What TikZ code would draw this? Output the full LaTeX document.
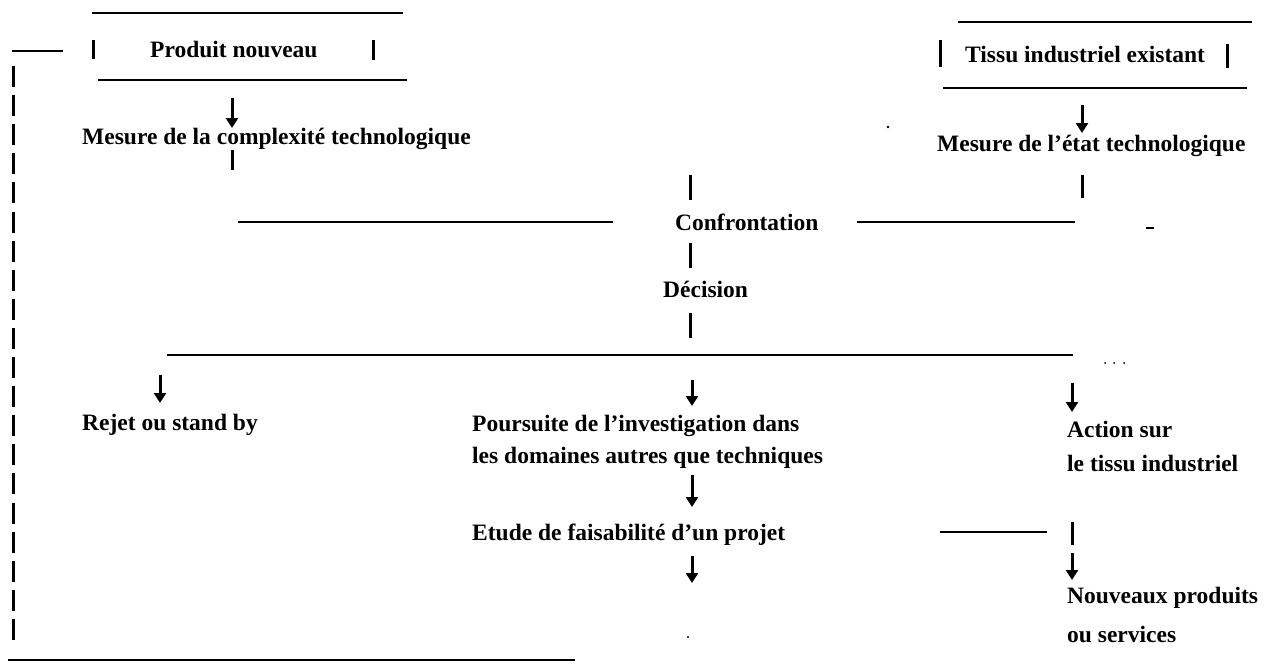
\documentclass[tikz,border=0pt]{standalone}
\usepackage{fontspec}
\setmainfont{Liberation Serif}
\usetikzlibrary{arrows.meta}
\begin{document}
\begin{tikzpicture}[x=1pt,y=-1pt,
  txt/.style={anchor=base west,inner sep=0pt,font=\fontsize{23.5}{28}\selectfont\bfseries},
  rule/.style={line width=1.8pt},
  bar/.style={line width=3pt},
  arr/.style={line width=3pt,-{Triangle[length=10pt,width=12pt]}},
  dashv/.style={line width=3pt,dash pattern=on 21pt off 8.1pt},
  speck/.style={fill=black}]
\useasboundingbox (0,0) rectangle (1264,665);
% texts
\node[txt] (prod) at (150,57) {Produit nouveau};
\node[txt] (tissu) at (965,62) {Tissu industriel existant};
\node[txt] (mcomp) at (82,144) {Mesure de la complexité technologique};
\node[txt] (metat) at (937,151) {Mesure de l’état technologique};
\node[txt] (conf) at (675,230) {Confrontation};
\node[txt] (dec) at (663,297) {Décision};
\node[txt] (rejet) at (82,430) {Rejet ou stand by};
\node[txt] (pours) at (472,431) {Poursuite de l’investigation dans};
\node[txt] (pours2) at (472,463) {les domaines autres que techniques};
\node[txt] (etude) at (472,540) {Etude de faisabilité d’un projet};
\node[txt] (action) at (1067,437) {Action sur};
\node[txt] (action2) at (1067,471) {le tissu industriel};
\node[txt] (nouv) at (1067,603) {Nouveaux produits};
\node[txt] (nouv2) at (1067,642) {ou services};
% coordinates
\coordinate (pt1) at (92,13);   \coordinate (pt2) at (403,13);
\coordinate (pb1) at (98,80);   \coordinate (pb2) at (407,80);
\coordinate (pl1) at (93,40);   \coordinate (pl2) at (93,59);
\coordinate (pr1) at (373,40);  \coordinate (pr2) at (373,60);
\coordinate (ls1) at (12,51);   \coordinate (ls2) at (63,51);
\coordinate (lv1) at (13,66);   \coordinate (lv2) at (13,640);
\coordinate (bt1) at (8,660);   \coordinate (bt2) at (575,660);
\coordinate (tt1) at (958,22);  \coordinate (tt2) at (1252,22);
\coordinate (tb1) at (943,88);  \coordinate (tb2) at (1247,88);
\coordinate (tl1) at (940,40);  \coordinate (tl2) at (940,67);
\coordinate (tr1) at (1227,44); \coordinate (tr2) at (1227,68);
\coordinate (a1s) at (232,98);  \coordinate (a1e) at (232,128);
\coordinate (a2s) at (1082,105);\coordinate (a2e) at (1082,133);
\coordinate (b1s) at (232,150); \coordinate (b1e) at (232,170);
\coordinate (b2s) at (1082,175);\coordinate (b2e) at (1082,198);
\coordinate (b3s) at (690,175); \coordinate (b3e) at (690,200);
\coordinate (cl1) at (238,222); \coordinate (cl2) at (613,222);
\coordinate (cr1) at (857,222); \coordinate (cr2) at (1075,222);
\coordinate (b4s) at (690,243); \coordinate (b4e) at (690,268);
\coordinate (b5s) at (690,313); \coordinate (b5e) at (690,338);
\coordinate (dl1) at (167,355); \coordinate (dl2) at (1073,355);
\coordinate (a3s) at (160,375); \coordinate (a3e) at (160,403);
\coordinate (a4s) at (692,380); \coordinate (a4e) at (692,406);
\coordinate (a5s) at (692,475); \coordinate (a5e) at (692,507);
\coordinate (a6s) at (692,556); \coordinate (a6e) at (692,583);
\coordinate (a7s) at (1072,383);\coordinate (a7e) at (1072,412);
\coordinate (el1) at (940,532); \coordinate (el2) at (1047,532);
\coordinate (b6s) at (1072,522);\coordinate (b6e) at (1072,545);
\coordinate (a8s) at (1072,553);\coordinate (a8e) at (1072,580);
% product box
\draw[rule] (pt1) -- (pt2);
\draw[rule] (pb1) -- (pb2);
\draw[bar] (pl1) -- (pl2);
\draw[bar] (pr1) -- (pr2);
% feedback loop
\draw[rule] (ls1) -- (ls2);
\draw[dashv] (lv1) -- (lv2);
\draw[rule] (bt1) -- (bt2);
% tissu box
\draw[rule] (tt1) -- (tt2);
\draw[rule] (tb1) -- (tb2);
\draw[bar] (tl1) -- (tl2);
\draw[bar] (tr1) -- (tr2);
% arrows and bars
\draw[arr] (a1s) -- (a1e);
\draw[arr] (a2s) -- (a2e);
\draw[bar] (b1s) -- (b1e);
\draw[bar] (b2s) -- (b2e);
\draw[bar] (b3s) -- (b3e);
\draw[rule] (cl1) -- (cl2);
\draw[rule] (cr1) -- (cr2);
\draw[bar] (b4s) -- (b4e);
\draw[bar] (b5s) -- (b5e);
\draw[rule] (dl1) -- (dl2);
\draw[arr] (a3s) -- (a3e);
\draw[arr] (a4s) -- (a4e);
\draw[arr] (a5s) -- (a5e);
\draw[arr] (a6s) -- (a6e);
\draw[arr] (a7s) -- (a7e);
\draw[rule] (el1) -- (el2);
\draw[bar] (b6s) -- (b6e);
\draw[arr] (a8s) -- (a8e);
% specks
\fill[speck] (888,127) circle (1.3pt);
\draw[rule] (1146,228) -- (1154,228);
\fill[speck] (1105,363) circle (1pt);
\fill[speck] (1114,363) circle (1pt);
\fill[speck] (1124,363) circle (1pt);
\fill[speck] (688,637) circle (1.2pt);
\end{tikzpicture}
\end{document}
